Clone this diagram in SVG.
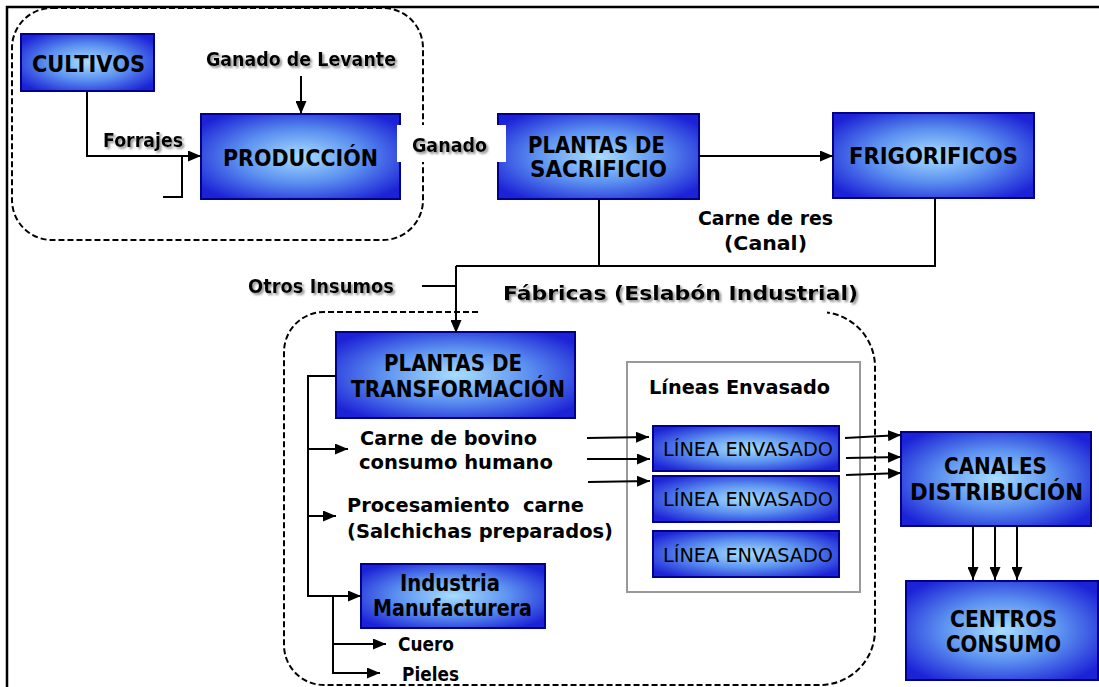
<svg xmlns="http://www.w3.org/2000/svg" width="1099" height="687" viewBox="0 0 1099 687">
<defs>
<radialGradient id="bg" cx="50%" cy="50%" r="62%">
<stop offset="0" stop-color="#a8deff"/>
<stop offset="0.5" stop-color="#5b90f0"/>
<stop offset="1" stop-color="#1c22d6"/>
</radialGradient>
<filter id="sh" x="-10%" y="-30%" width="130%" height="170%">
<feDropShadow dx="2" dy="2" stdDeviation="1" flood-color="#7a7a7a" flood-opacity="0.8"/>
</filter>
<marker id="ah" viewBox="0 0 13 11" refX="13" refY="5.5" markerWidth="6.5" markerHeight="5.5" orient="auto" markerUnits="strokeWidth">
<path d="M0,0 L13,5.5 L0,11 Z" fill="#000"/>
</marker>
</defs>
<style>
.box{fill:url(#bg);stroke:#00008a;stroke-width:2}
.bt{font-family:"DejaVu Sans",Verdana,sans-serif;font-weight:bold;font-size:23px;fill:#000}
.lb{font-family:"DejaVu Sans",Verdana,sans-serif;font-weight:bold;font-size:19px;fill:#000;white-space:pre}
.ln{font-family:"DejaVu Sans",Tahoma,sans-serif;font-size:19px;fill:#000}
.c{fill:none;stroke:#000;stroke-width:2}
.a{fill:none;stroke:#000;stroke-width:2;marker-end:url(#ah)}
.d{fill:none;stroke:#000;stroke-width:2;stroke-dasharray:6 3}
.s{filter:url(#sh)}
</style>
<rect width="1099" height="687" fill="#fff"/>
<path d="M7,687 V7 H1099" fill="none" stroke="#000" stroke-width="2.5"/>

<g id="groups">
<rect x="12" y="8" width="411" height="232" rx="40" ry="40" class="d"/>
<path d="M478,312 H324 A40,40 0 0 0 284,352 V645 A40,40 0 0 0 324,685 H820 A55,55 0 0 0 875,630 V367 A55,55 0 0 0 827,312.5" class="d"/>
<text x="503" y="300" class="lb s" font-size="23" textLength="355" lengthAdjust="spacingAndGlyphs">Fábricas (Eslabón Industrial)</text>
</g>

<g id="cultivos">
<rect x="21" y="34" width="133" height="57" class="box"/>
<text x="32" y="72" class="bt" textLength="113" lengthAdjust="spacingAndGlyphs">CULTIVOS</text>
</g>
<g id="produccion">
<rect x="201" y="114" width="199" height="85" class="box"/>
<text x="223" y="166" class="bt" textLength="155" lengthAdjust="spacingAndGlyphs">PRODUCCIÓN</text>
</g>
<g id="plantas-sacrificio">
<rect x="498" y="114" width="201" height="85" class="box"/>
<text x="528" y="153" class="bt" textLength="137" lengthAdjust="spacingAndGlyphs">PLANTAS DE</text>
<text x="530" y="177" class="bt" textLength="137" lengthAdjust="spacingAndGlyphs">SACRIFICIO</text>
</g>
<g id="ganado-label">
<rect x="397" y="125" width="109" height="37" fill="#fff"/>
<text x="412" y="152" class="lb s" font-size="20" textLength="75" lengthAdjust="spacingAndGlyphs">Ganado</text>
</g>
<g id="frigorificos">
<rect x="833" y="113" width="201" height="85" class="box"/>
<text x="849" y="164" class="bt" textLength="169" lengthAdjust="spacingAndGlyphs">FRIGORIFICOS</text>
</g>
<g id="plantas-transformacion">
<rect x="336" y="332" width="239" height="86" class="box"/>
<text x="384" y="371" class="bt" textLength="138" lengthAdjust="spacingAndGlyphs">PLANTAS DE</text>
<text x="351" y="397" class="bt" textLength="214" lengthAdjust="spacingAndGlyphs">TRANSFORMACIÓN</text>
</g>
<g id="industria">
<rect x="361" y="564" width="184" height="64" class="box"/>
<text x="400" y="591" class="bt" font-size="22" textLength="100" lengthAdjust="spacingAndGlyphs">Industria</text>
<text x="373" y="616" class="bt" font-size="22" textLength="159" lengthAdjust="spacingAndGlyphs">Manufacturera</text>
</g>
<g id="lineas-envasado">
<rect x="627" y="362" width="233" height="230" fill="#fff" stroke="#999" stroke-width="2"/>
<text x="649" y="394" class="lb" font-size="22" textLength="181" lengthAdjust="spacingAndGlyphs">Líneas Envasado</text>
</g>
<g id="linea1">
<rect x="653" y="426" width="186" height="45" class="box"/>
<text x="663" y="456" class="ln" textLength="170" lengthAdjust="spacingAndGlyphs">LÍNEA ENVASADO</text>
</g>
<g id="linea2">
<rect x="653" y="476" width="186" height="46" class="box"/>
<text x="663" y="506" class="ln" textLength="170" lengthAdjust="spacingAndGlyphs">LÍNEA ENVASADO</text>
</g>
<g id="linea3">
<rect x="653" y="531" width="186" height="46" class="box"/>
<text x="663" y="562" class="ln" textLength="170" lengthAdjust="spacingAndGlyphs">LÍNEA ENVASADO</text>
</g>
<g id="canales">
<rect x="901" y="432" width="190" height="94" class="box"/>
<text x="944" y="474" class="bt" textLength="103" lengthAdjust="spacingAndGlyphs">CANALES</text>
<text x="910" y="500" class="bt" textLength="173" lengthAdjust="spacingAndGlyphs">DISTRIBUCIÓN</text>
</g>
<g id="centros">
<rect x="906" y="581" width="192" height="99" class="box"/>
<text x="950" y="627" class="bt" textLength="107" lengthAdjust="spacingAndGlyphs">CENTROS</text>
<text x="946" y="652" class="bt" textLength="115" lengthAdjust="spacingAndGlyphs">CONSUMO</text>
</g>

<g id="connectors">
<path d="M87,91 V156 H201" class="a"/>
<path d="M163,197 H182 V157" class="c"/>
<path d="M301,76 V114" class="a"/>
<path d="M699,156 H833" class="a"/>
<path d="M599,199 V266" class="c"/>
<path d="M935,198 V266 H456" class="c"/>
<path d="M456,266 V333" class="a"/>
<path d="M422,286 H456" class="c"/>
<path d="M336,376 H308 V596 H361" class="a"/>
<path d="M308,449 H348" class="a"/>
<path d="M308,516 H336" class="a"/>
<path d="M333,596 V673 H380" class="a"/>
<path d="M333,644 H386" class="a"/>
<path d="M587,438 L649,437" class="a"/>
<path d="M587,459 L650,459" class="a"/>
<path d="M588,482 L650,481" class="a"/>
<path d="M845,438 L901,435" class="a"/>
<path d="M846,458 L901,457" class="a"/>
<path d="M846,475 L901,473" class="a"/>
<path d="M973,526 V580" class="a"/>
<path d="M995,526 V580" class="a"/>
<path d="M1017,526 V580" class="a"/>
<text x="206" y="66" class="lb s" font-size="20" textLength="190" lengthAdjust="spacingAndGlyphs">Ganado de Levante</text>
<text x="103" y="147" class="lb s" font-size="20" textLength="80" lengthAdjust="spacingAndGlyphs">Forrajes</text>
<text x="698" y="225" class="lb" font-size="21" textLength="135" lengthAdjust="spacingAndGlyphs">Carne de res</text>
<text x="724" y="250" class="lb" font-size="21" textLength="83" lengthAdjust="spacingAndGlyphs">(Canal)</text>
<text x="248" y="293" class="lb s" font-size="20" textLength="146" lengthAdjust="spacingAndGlyphs">Otros Insumos</text>
<text x="360" y="445" class="lb" font-size="22" textLength="177" lengthAdjust="spacingAndGlyphs">Carne de bovino</text>
<text x="359" y="469" class="lb" font-size="22" textLength="194" lengthAdjust="spacingAndGlyphs">consumo humano</text>
<text x="347" y="512" class="lb" font-size="22" textLength="237" lengthAdjust="spacingAndGlyphs">Procesamiento  carne</text>
<text x="347" y="538" class="lb" font-size="22" textLength="266" lengthAdjust="spacingAndGlyphs">(Salchichas preparados)</text>
<text x="398" y="651" class="lb" font-size="19" textLength="56" lengthAdjust="spacingAndGlyphs">Cuero</text>
<text x="402" y="681" class="lb" font-size="19" textLength="57" lengthAdjust="spacingAndGlyphs">Pieles</text>
</g>
</svg>
